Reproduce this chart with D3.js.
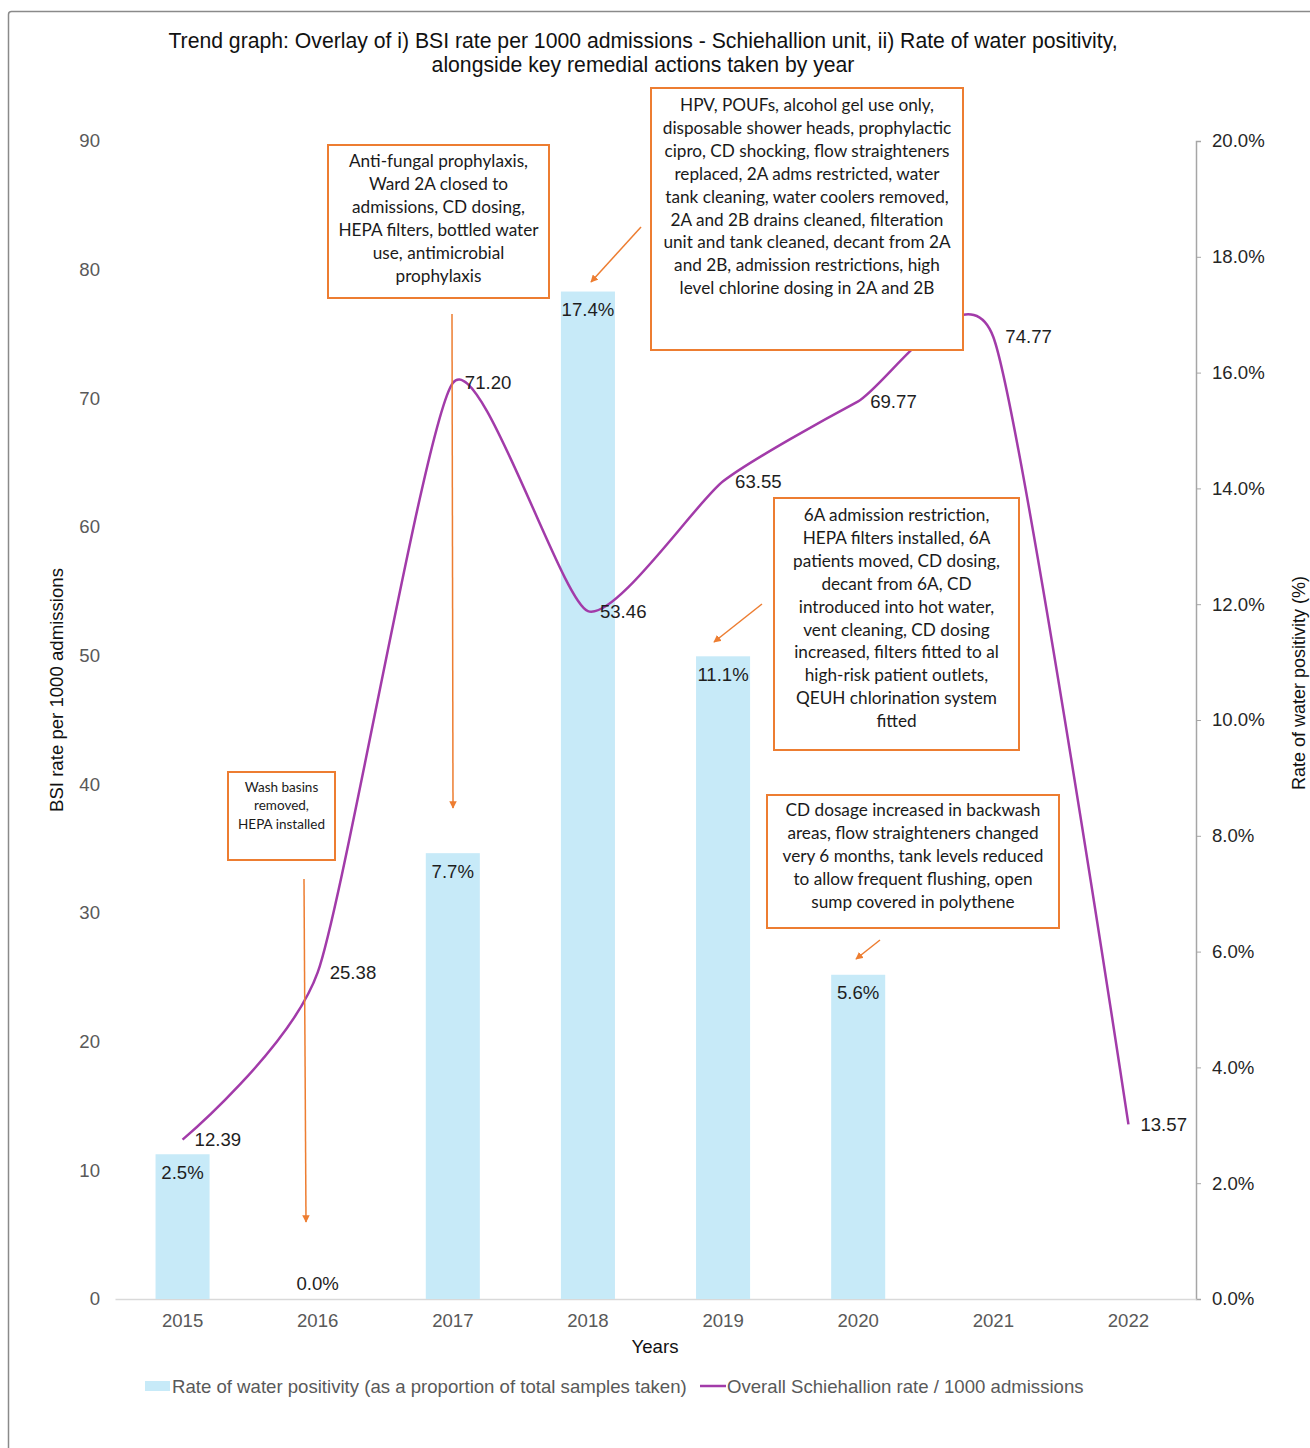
<!DOCTYPE html>
<html>
<head>
<meta charset="utf-8">
<script src="https://cdn.jsdelivr.net/npm/d3@7"></script>
<style>
  html, body { margin: 0; padding: 0; background: #fff; }
  svg { display: block; }
  text { font-family: "Liberation Sans", Arial, sans-serif; }
  .note { font-family: Lato, "Open Sans", sans-serif; }
</style>
</head>
<body>
<svg id="chart" width="1310" height="1448"></svg>
<script>
// ---- data ----
const years = ["2015", "2016", "2017", "2018", "2019", "2020", "2021", "2022"];
const bsiRate = [12.39, 25.38, 71.20, 53.46, 63.55, 69.77, 74.77, 13.57];
const waterPositivity = [0.025, 0.0, 0.077, 0.174, 0.111, 0.056, null, null];
const leftTicks = [0, 10, 20, 30, 40, 50, 60, 70, 80, 90];
const rightTicks = [0, 0.02, 0.04, 0.06, 0.08, 0.10, 0.12, 0.14, 0.16, 0.18, 0.20];

const titleLines = [
  "Trend graph: Overlay of i) BSI rate per 1000 admissions - Schiehallion unit, ii) Rate of water positivity,",
  "alongside key remedial actions taken by year"
];
const barSeriesName = "Rate of water positivity (as a proportion of total samples taken)";
const lineSeriesName = "Overall Schiehallion rate / 1000 admissions";

const noteWashBasins = ["Wash basins", "removed,", "HEPA installed"];
const noteAntifungal = ["Anti-fungal prophylaxis,", "Ward 2A closed to", "admissions, CD dosing,",
  "HEPA filters, bottled water", "use, antimicrobial", "prophylaxis"];
const noteHPV = ["HPV, POUFs, alcohol gel use only,", "disposable shower heads, prophylactic",
  "cipro, CD shocking, flow straighteners", "replaced, 2A adms restricted, water",
  "tank cleaning, water coolers removed,", "2A and 2B drains cleaned, filteration",
  "unit and tank cleaned, decant from 2A", "and 2B, admission restrictions, high",
  "level chlorine dosing in 2A and 2B"];
const note6A = ["6A admission restriction,", "HEPA filters installed, 6A", "patients moved, CD dosing,",
  "decant from 6A, CD", "introduced into hot water,", "vent cleaning, CD dosing",
  "increased, filters fitted to al", "high-risk patient outlets,", "QEUH chlorination system", "fitted"];
const noteCD = ["CD dosage increased in backwash", "areas, flow straighteners changed",
  "very 6 months, tank levels reduced", "to allow frequent flushing, open", "sump covered in polythene"];

// ---- layout ----
const plot = { left: 115, right: 1196, top: 141, bottom: 1299 };
const barColor = "#C7EAF8";
const lineColor = "#A23BA9";
const noteColor = "#ED7D31";
const axisGray = "#595959";
const fs = 18.6;

const svg = d3.select("#chart");

// outer chart frame
svg.append("rect")
  .attr("x", 8.5).attr("y", 11.5).attr("width", 1400).attr("height", 1500)
  .attr("rx", 3).attr("fill", "#fff").attr("stroke", "#8a8a8a").attr("stroke-width", 1.5);

// scales
const x = d3.scaleBand().domain(years).range([plot.left, plot.right])
  .paddingInner(0.6).paddingOuter(0.3);
const cx = d => x(d) + x.bandwidth() / 2;
const yL = d3.scaleLinear().domain([0, 90]).range([plot.bottom, plot.top]);
const yR = d3.scaleLinear().domain([0, 0.2]).range([plot.bottom, plot.top]);

// title
svg.append("text")
  .attr("x", 643).attr("y", 48)
  .attr("text-anchor", "middle")
  .attr("font-size", 21.2).attr("fill", "#111")
  .selectAll("tspan").data(titleLines).join("tspan")
  .attr("x", 643).attr("dy", (d, i) => i === 0 ? 0 : 24)
  .text(d => d);

// left axis
const gL = svg.append("g").attr("transform", `translate(${plot.left},0)`)
  .call(d3.axisLeft(yL).tickValues(leftTicks).tickSize(0).tickPadding(15));
gL.select(".domain").remove();
gL.selectAll("text").attr("font-size", fs).attr("fill", axisGray)
  .attr("font-family", "Liberation Sans, Arial, sans-serif");

// right axis
const gR = svg.append("g").attr("transform", `translate(${plot.right},0)`)
  .call(d3.axisRight(yR).tickValues(rightTicks).tickFormat(d3.format(".1%"))
    .tickSize(5).tickPadding(11));
gR.select(".domain").attr("stroke", "#A6A6A6").attr("stroke-width", 1.5);
gR.selectAll(".tick line").attr("stroke", "#A6A6A6");
gR.selectAll("text").attr("font-size", fs).attr("fill", "#262626")
  .attr("font-family", "Liberation Sans, Arial, sans-serif");

// bottom axis
const gB = svg.append("g").attr("transform", `translate(0,${plot.bottom})`)
  .call(d3.axisBottom(x).tickSize(0).tickPadding(15));
gB.select(".domain").attr("stroke", "#D9D9D9").attr("stroke-width", 1.5);
gB.selectAll("text").attr("font-size", fs).attr("fill", axisGray)
  .attr("font-family", "Liberation Sans, Arial, sans-serif");

// axis titles
svg.append("text")
  .attr("transform", "translate(63,690) rotate(-90)")
  .attr("text-anchor", "middle").attr("font-size", 18.6).attr("fill", "#111")
  .text("BSI rate per 1000 admissions");
svg.append("text")
  .attr("transform", "translate(1305,683) rotate(-90)")
  .attr("text-anchor", "middle").attr("font-size", 18).attr("fill", "#111")
  .text("Rate of water positivity (%)");
svg.append("text")
  .attr("x", 655).attr("y", 1353)
  .attr("text-anchor", "middle").attr("font-size", fs).attr("fill", "#111")
  .text("Years");

// bars: water positivity (right axis)
const barData = years.map((yr, i) => ({ yr, v: waterPositivity[i] })).filter(d => d.v !== null);
svg.append("g").selectAll("rect").data(barData).join("rect")
  .attr("x", d => x(d.yr)).attr("width", x.bandwidth())
  .attr("y", d => yR(d.v)).attr("height", d => yR(0) - yR(d.v))
  .attr("fill", barColor);

// line: BSI rate (left axis), smoothed
const lineData = years.map((yr, i) => ({ yr, v: bsiRate[i] }));
const line = d3.line().x(d => cx(d.yr)).y(d => yL(d.v)).curve(d3.curveCardinal.tension(0.4));
svg.append("path").datum(lineData)
  .attr("d", line).attr("fill", "none")
  .attr("stroke", lineColor).attr("stroke-width", 2.5);

// bar labels
svg.append("g").selectAll("text").data(barData).join("text")
  .attr("x", d => cx(d.yr))
  .attr("y", d => d.v > 0 ? yR(d.v) + 18 : yR(d.v) - 16)
  .attr("dy", "0.35em")
  .attr("text-anchor", "middle").attr("font-size", fs).attr("fill", "#1e1e1e")
  .text(d => d3.format(".1%")(d.v));

// line labels
svg.append("g").selectAll("text").data(lineData).join("text")
  .attr("x", d => cx(d.yr) + 12).attr("y", d => yL(d.v))
  .attr("dy", "0.35em")
  .attr("font-size", fs).attr("fill", "#1e1e1e")
  .text(d => d.v.toFixed(2));

// remedial-action notes
const defs = svg.append("defs");
defs.append("marker").attr("id", "head")
  .attr("viewBox", "0 0 10 10").attr("refX", 9).attr("refY", 5)
  .attr("markerWidth", 5).attr("markerHeight", 5).attr("orient", "auto")
  .append("path").attr("d", "M0,0L10,5L0,10Z").attr("fill", noteColor);

const arrows = [
  [452, 314, 453, 808],
  [304, 879, 306, 1222],
  [641, 227, 591, 282],
  [762, 604, 714, 642],
  [880, 940, 856, 959]
];
svg.append("g").selectAll("line").data(arrows).join("line")
  .attr("x1", d => d[0]).attr("y1", d => d[1]).attr("x2", d => d[2]).attr("y2", d => d[3])
  .attr("stroke", noteColor).attr("stroke-width", 1.5)
  .attr("marker-end", "url(#head)");

const notes = [
  { lines: noteWashBasins, x: 228, y: 772, w: 107, h: 88, size: 13.5, gap: 18.5, first: 787 },
  { lines: noteAntifungal, x: 328, y: 145, w: 221, h: 153, size: 17.2, gap: 23, first: 161 },
  { lines: noteHPV, x: 651, y: 88, w: 312, h: 262, size: 17.2, gap: 22.9, first: 105 },
  { lines: note6A, x: 774, y: 498, w: 245, h: 252, size: 17.2, gap: 22.9, first: 515 },
  { lines: noteCD, x: 767, y: 795, w: 292, h: 133, size: 17.2, gap: 23, first: 810 }
];
const ng = svg.append("g").selectAll("g").data(notes).join("g");
ng.append("rect")
  .attr("x", d => d.x).attr("y", d => d.y).attr("width", d => d.w).attr("height", d => d.h)
  .attr("fill", "#fff").attr("stroke", noteColor).attr("stroke-width", 2);
ng.append("text").attr("class", "note")
  .attr("text-anchor", "middle").attr("fill", "#1a1a1a")
  .attr("font-size", d => d.size)
  .each(function (d) {
    d3.select(this).selectAll("tspan").data(d.lines).join("tspan")
      .attr("x", d.x + d.w / 2)
      .attr("y", (t, i) => d.first + i * d.gap)
      .attr("dy", "0.35em")
      .text(t => t);
  });

// legend
const lg = svg.append("g");
lg.append("rect").attr("x", 145).attr("y", 1381).attr("width", 25).attr("height", 10).attr("fill", barColor);
lg.append("text").attr("x", 172).attr("y", 1386).attr("dy", "0.35em")
  .attr("font-size", fs).attr("fill", axisGray).text(barSeriesName);
lg.append("line").attr("x1", 700).attr("x2", 726).attr("y1", 1386).attr("y2", 1386)
  .attr("stroke", lineColor).attr("stroke-width", 2.5);
lg.append("text").attr("x", 727).attr("y", 1386).attr("dy", "0.35em")
  .attr("font-size", fs).attr("fill", axisGray).text(lineSeriesName);
</script>
</body>
</html>
